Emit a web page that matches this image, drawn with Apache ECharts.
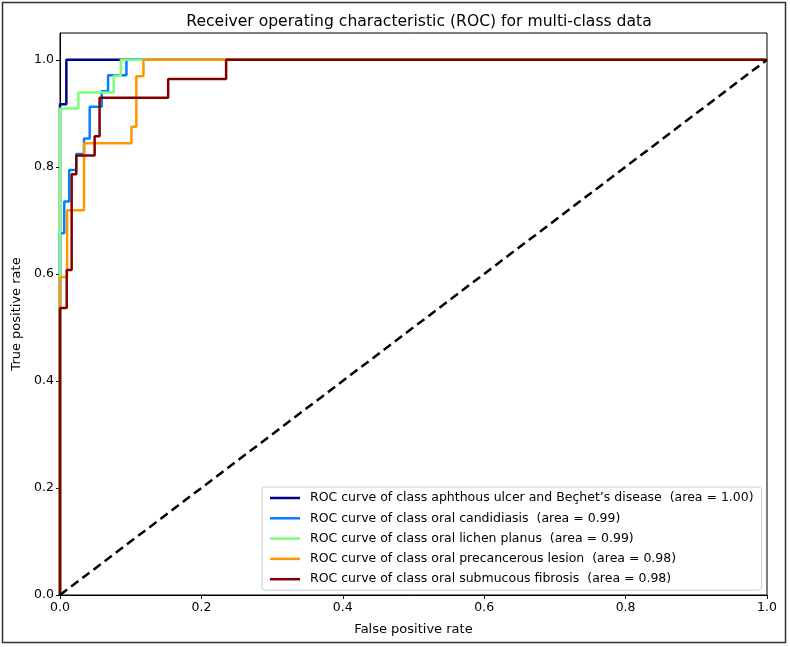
<!DOCTYPE html>
<html>
<head>
<meta charset="utf-8">
<script src="https://cdn.jsdelivr.net/npm/echarts@6/dist/echarts.min.js"></script>
<style>
html,body{margin:0;padding:0;background:#fff;}
#chart{width:790px;height:647px;}
</style>
</head>
<body>
<div id="chart"></div>
<script>
// ---- data ----
const titleText = "Receiver operating characteristic (ROC) for multi-class data";
const xAxisName = "False positive rate";
const yAxisName = "True positive rate";
const tickValues = [0, 0.2, 0.4, 0.6, 0.8, 1.0];

const classNames = [
  "ROC curve of class aphthous ulcer and Beçhet’s disease  (area = 1.00)",
  "ROC curve of class oral candidiasis  (area = 0.99)",
  "ROC curve of class oral lichen planus  (area = 0.99)",
  "ROC curve of class oral precancerous lesion  (area = 0.98)",
  "ROC curve of class oral submucous fibrosis  (area = 0.98)"
];

const fprAphthous = [0, 0, 0.009, 0.009, 1];
const tprAphthous = [0, 0.917, 0.917, 1, 1];

const fprCandidiasis = [0, 0, 0.006, 0.006, 0.013, 0.013, 0.023, 0.023, 0.034, 0.034, 0.042, 0.042, 0.059, 0.059, 0.068, 0.068, 0.094, 0.094, 1];
const tprCandidiasis = [0, 0.676, 0.676, 0.735, 0.735, 0.794, 0.794, 0.824, 0.824, 0.853, 0.853, 0.912, 0.912, 0.941, 0.941, 0.971, 0.971, 1, 1];

const fprLichen = [0, 0, 0.026, 0.026, 0.076, 0.076, 0.086, 0.086, 1];
const tprLichen = [0, 0.909, 0.909, 0.939, 0.939, 0.970, 0.970, 1, 1];

const fprPrecancer = [0, 0, 0.010, 0.010, 0.034, 0.034, 0.101, 0.101, 0.108, 0.108, 0.118, 0.118, 1];
const tprPrecancer = [0, 0.594, 0.594, 0.719, 0.719, 0.844, 0.844, 0.875, 0.875, 0.969, 0.969, 1, 1];

const fprFibrosis = [0, 0, 0.0095, 0.0095, 0.0165, 0.0165, 0.023, 0.023, 0.049, 0.049, 0.056, 0.056, 0.153, 0.153, 0.235, 0.235, 1];
const tprFibrosis = [0, 0.536, 0.536, 0.607, 0.607, 0.786, 0.786, 0.821, 0.821, 0.857, 0.857, 0.929, 0.929, 0.964, 0.964, 1, 1];

const chanceX = [0, 1];
const chanceY = [0, 1];

// ---- style ----
const colors = ["#000080", "#0080ff", "#7bff7b", "#ff9700", "#800000"];
const FONT = "DejaVu Sans";

const zip = (xs, ys) => xs.map((x, i) => [x, ys[i]]);
const curves = [
  zip(fprAphthous, tprAphthous),
  zip(fprCandidiasis, tprCandidiasis),
  zip(fprLichen, tprLichen),
  zip(fprPrecancer, tprPrecancer),
  zip(fprFibrosis, tprFibrosis)
];

const series = curves.map((d, i) => ({
  name: classNames[i],
  type: "line",
  data: d,
  showSymbol: false,
  symbol: "none",
  animation: false,
  lineStyle: { color: colors[i], width: 2.5 },
  itemStyle: { color: colors[i] }
}));
series.push({
  name: "chance",
  type: "line",
  data: zip(chanceX, chanceY),
  symbol: "none",
  animation: false,
  lineStyle: { color: "#000", width: 2.5, type: [9, 5] }
});

const chart = echarts.init(document.getElementById("chart"), null, { renderer: "canvas" });
chart.setOption({
  animation: false,
  backgroundColor: "#fff",
  textStyle: { fontFamily: FONT },
  title: {
    text: titleText,
    left: 414,
    top: 9,
    textAlign: "center",
    textStyle: { fontFamily: FONT, fontSize: 15.6, fontWeight: "normal", color: "#000" }
  },
  grid: { left: 60, right: 23, top: 33, bottom: 52, show: true, borderColor: "#000", borderWidth: 1, containLabel: false },
  legend: {
    data: classNames,
    orient: "vertical",
    left: 262,
    top: 487,
    icon: "rect",
    itemWidth: 30,
    itemHeight: 2.5,
    itemGap: 6.3,
    padding: [4, 8, 4, 8],
    borderColor: "#cccccc",
    borderWidth: 1,
    borderRadius: 3,
    backgroundColor: "rgba(255,255,255,0.8)",
    textStyle: { fontFamily: FONT, fontSize: 12.5, color: "#000", lineHeight: 14, padding: [0, 0, 0, 5] }
  },
  xAxis: {
    type: "value",
    min: 0, max: 1, interval: 0.2,
    name: xAxisName,
    nameLocation: "middle",
    nameGap: 28,
    nameTextStyle: { fontFamily: FONT, fontSize: 13, color: "#000" },
    axisLine: { show: true, onZero: false, lineStyle: { color: "#000", width: 1 } },
    axisTick: { show: true, inside: false, length: 4, lineStyle: { color: "#000" }, customValues: tickValues },
    axisLabel: { color: "#000", fontSize: 12.5, margin: 6, customValues: tickValues, formatter: v => v.toFixed(1) },
    splitLine: { show: false }
  },
  yAxis: {
    type: "value",
    min: 0, max: 1.05, interval: 0.2,
    name: yAxisName,
    nameLocation: "middle",
    nameGap: 34,
    nameTextStyle: { fontFamily: FONT, fontSize: 13, color: "#000" },
    axisLine: { show: true, onZero: false, lineStyle: { color: "#000", width: 1 } },
    axisTick: { show: true, inside: false, length: 4, lineStyle: { color: "#000" }, customValues: tickValues },
    axisLabel: { color: "#000", fontSize: 12.5, margin: 6, customValues: tickValues, formatter: v => v.toFixed(1) },
    splitLine: { show: false }
  },
  graphic: [{
    type: "rect",
    silent: true,
    shape: { x: 2.5, y: 2.5, width: 783, height: 640 },
    style: { fill: "none", stroke: "#333", lineWidth: 1.5 }
  }],
  series: series
});
</script>
</body>
</html>
